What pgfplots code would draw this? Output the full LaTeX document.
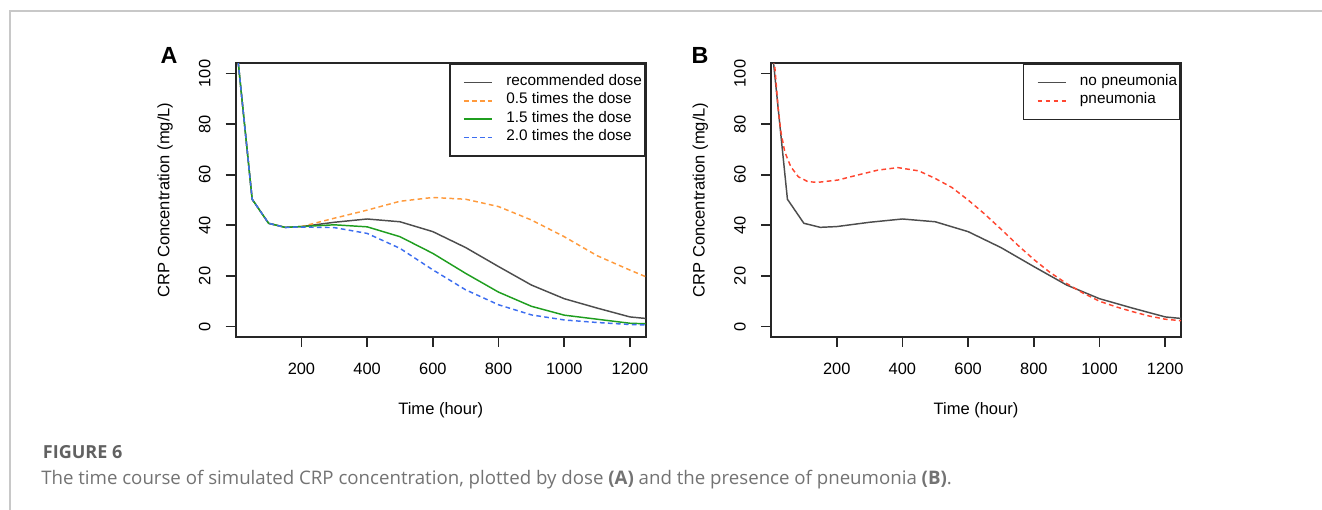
\documentclass[border=0pt]{standalone}
\usepackage{fontspec}
\setmainfont{Liberation Sans}
\newfontfamily\capfont{Open Sans}
\usepackage{pgfplots}
\usepackage{pgfplotstable}
\pgfplotsset{compat=1.18}

\definecolor{cblack}{HTML}{4D4D4D}
\definecolor{corange}{HTML}{FF9A3C}
\definecolor{cgreen}{HTML}{1F9E1F}
\definecolor{cblue}{HTML}{3D6EF0}
\definecolor{cred}{HTML}{FF4630}
\definecolor{frame}{HTML}{C8C8C8}

% recommended dose / no pneumonia
\pgfplotstableread{
x y
0 114
50 50.3
100 40.8
150 39.2
200 39.5
300 41.2
400 42.5
500 41.4
600 37.5
700 31.2
800 23.7
900 16.4
1000 11.0
1100 7.3
1200 3.8
1248 3.2
}\recdose

\pgfplotstableread{
x y
0 114
50 50.3
100 40.8
150 39.2
200 39.5
300 42.8
400 46.0
500 49.5
600 51.0
700 50.3
800 47.4
900 42.1
1000 35.5
1100 28.0
1200 22.3
1248 19.7
}\halfdose

\pgfplotstableread{
x y
0 114
50 50.3
100 40.8
150 39.2
200 39.5
300 40.2
400 39.4
500 35.5
600 28.9
700 21.0
800 13.6
900 8.0
1000 4.5
1100 2.9
1200 1.3
1248 1.1
}\onehalfdose

\pgfplotstableread{
x y
0 114
50 50.3
100 40.8
150 39.2
200 39.3
300 39.1
400 36.8
500 30.9
600 22.4
700 14.5
800 8.6
900 4.6
1000 2.6
1100 1.6
1200 0.8
1248 0.6
}\twodose

\pgfplotstableread{
x y
0 112
12 102
17 94
22 86
30 77
42 69
60 63.2
83 59.2
113 57.2
144 57.0
204 57.9
265 59.9
325 61.8
386 62.8
450 61.5
500 58.5
550 55.0
600 50.0
650 44.5
700 38.5
750 32.3
800 26.5
850 21.3
900 17.0
950 13.2
1000 10.0
1050 7.8
1100 5.9
1150 4.2
1200 2.9
1248 2.3
}\pneu

\pgfplotsset{
  crp/.style={
    scale only axis, width=307.5pt, height=205pt,
    xmin=0, xmax=1248, ymin=-4, ymax=104,
    xtick={200,400,600,800,1000,1200}, ytick={0,20,40,60,80,100},
    xtick pos=bottom, ytick pos=left,
    tick align=outside, major tick length=7.5pt,
    axis line style={line width=1.3pt, black!85},
    every tick/.style={line width=1.3pt, black!85},
    tick label style={font=\fontsize{12.3}{14}\selectfont},
    /pgf/number format/assume math mode=true,
    /pgf/number format/1000 sep={},
    xticklabel style={anchor=north, inner sep=0pt},
    yticklabel style={rotate=90, anchor=south, inner sep=0pt},
    xticklabel shift=12pt, yticklabel shift=11.25pt,
    xlabel={Time (hour)}, ylabel={CRP Concentration (mg/L)},
    every axis x label/.style={at={(axis description cs:0.5,-0.268)}, anchor=center, font=\fontsize{12.4}{14}\selectfont},
    every axis y label/.style={at={(axis description cs:-0.1724,0.5)}, anchor=center, rotate=90, font=\fontsize{12.4}{14}\selectfont},
    legend style={at={(1,1)}, anchor=north east, draw=black!85, line width=1.3pt,
      inner xsep=2.25pt, inner ysep=7pt, row sep=0pt, column sep=10pt,
      font=\fontsize{11.5}{13.7}\selectfont,
      nodes={inner sep=0pt, text height=9pt, text depth=4.7pt}},
    legend cell align=left,
    legend image code/.code={\draw[##1, shorten <=7.75pt] (0pt,0pt) -- (29pt,0pt);},
  },
  sblack/.style={draw=cblack, line width=1.1pt, solid},
  dsh/.style={dash pattern=on 3.5pt off 2.5pt},
}

\begin{document}
\begin{tikzpicture}
\path[use as bounding box] (0,0) rectangle (991.5pt,-382.5pt);
\draw[frame, line width=1.1pt] (7.5pt,-382.5pt) -- (7.5pt,-8.25pt) -- (991.5pt,-8.25pt);

\begin{axis}[crp, at={(176.8pt,-252.5pt)}, anchor=south west]
\addplot[sblack] table {\recdose};
\addlegendentry{recommended dose}
\addplot[draw=corange, line width=1.1pt, dsh] table {\halfdose};
\addlegendentry{0.5 times the dose}
\addplot[draw=cgreen, line width=1.1pt, solid] table {\onehalfdose};
\addlegendentry{1.5 times the dose}
\addplot[draw=cblue, line width=1.1pt, dsh] table {\twodose};
\addlegendentry{2.0 times the dose}
\end{axis}

\begin{axis}[crp, at={(578.25pt,-252.5pt)}, anchor=south west]
\addplot[sblack] table {\recdose};
\addlegendentry{no pneumonia}
\addplot[draw=cred, line width=1.1pt, dsh] table {\pneu};
\addlegendentry{pneumonia}
\end{axis}

\node[font=\fontsize{17.5}{20}\bfseries\selectfont] at (126.75pt,-41.25pt) {A};
\node[font=\fontsize{17.5}{20}\bfseries\selectfont] at (525pt,-41.25pt) {B};

\node[anchor=base west, inner sep=0pt, text=black!62, font=\capfont\bfseries\fontsize{13.5}{16}\selectfont] at (32pt,-344pt) {FIGURE 6};
\node[anchor=base west, inner sep=0pt, text=black!55, font=\capfont\fontsize{14}{16}\selectfont] at (30.75pt,-363pt) {The time course of simulated CRP concentration, plotted by dose \textbf{(A)} and the presence of pneumonia \textbf{(B)}.};
\end{tikzpicture}
\end{document}
